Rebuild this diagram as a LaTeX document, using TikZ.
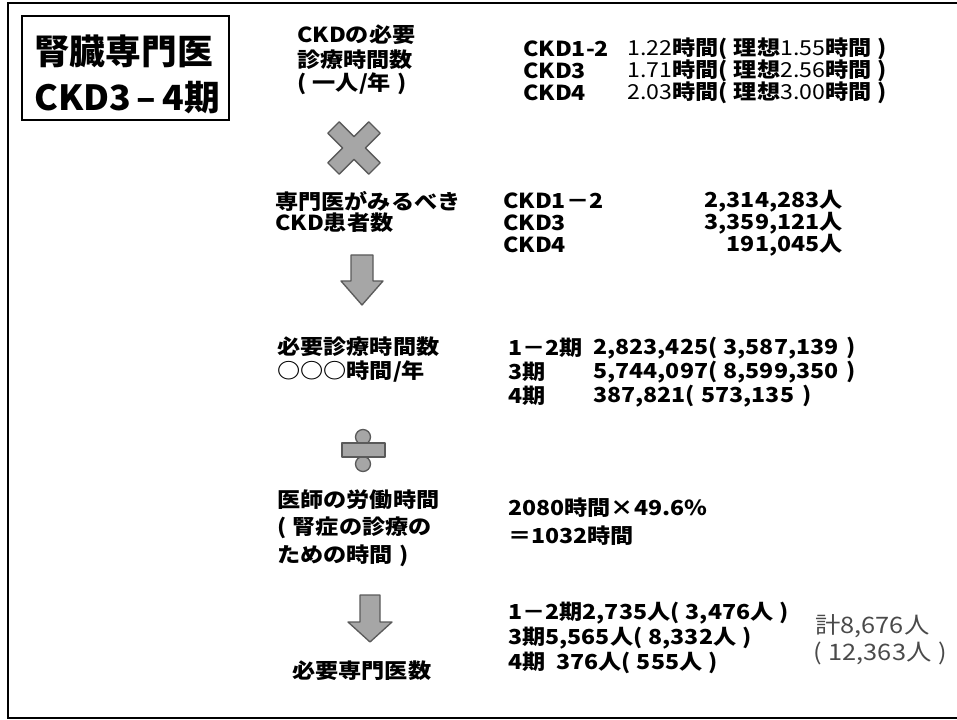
\documentclass[tikz,border=0pt]{standalone}
\usepackage{fontspec}
\setmainfont{Noto Sans CJK JP}[FakeStretch=1.12]
\newfontfamily\ttlfont{Noto Sans CJK JP}[FakeStretch=1.03]
\definecolor{symgray}{HTML}{A6A6A6}
\definecolor{symedge}{HTML}{5A5A5A}
\definecolor{totgray}{HTML}{4A4A4A}
\newcommand\lite[1]{{\mdseries #1}}
\newcommand\gp{\hspace{0.3em}}
\newcommand\gq{\hspace{0.4em}}
\tikzset{
  lbl/.style={inner sep=0pt, anchor=west, font=\bfseries\fontsize{15.5}{15.5}\selectfont},
  ttl/.style={inner sep=0pt, anchor=west, font=\ttlfont\bfseries\fontsize{26}{26}\selectfont},
  tot/.style={inner sep=0pt, anchor=west, text=totgray, font=\fontsize{17}{17}\selectfont},
  symfill/.style={fill=symgray, draw=symedge, line width=1pt, line join=round},
}
\begin{document}
\begin{tikzpicture}[x=0.75pt,y=-0.75pt]
\useasboundingbox (0,0) rectangle (957,720);
% outer frame
\draw[line width=2.2pt] (8,3) rectangle (990,718);
% title
\node (titlebox) [draw, line width=0.8pt, minimum width=155.25pt, minimum height=78pt, inner sep=0pt] at (125.5,68) {};
\node[ttl] (title1) at (34,51) {腎臓専門医};
\node[ttl] (title2) at (34,98) {CKD3\,–\,4期};
% section 1
\node[lbl] (a1) at (297,35) {CKDの必要};
\node[lbl] (a2) at (297,60) {診療時間数};
\node[lbl] (a3) at (297,84) {(\gp 一人/年\gp )};
\node[lbl] (r1a) at (523,49) {CKD1-2};
\node[lbl] (r1b) at (627,49) {\lite{1.22}時間(\gp 理想\lite{1.55}時間\gp )};
\node[lbl] (r2a) at (523,71) {CKD3};
\node[lbl] (r2b) at (627,71) {\lite{1.71}時間(\gp 理想\lite{2.56}時間\gp )};
\node[lbl] (r3a) at (523,93) {CKD4};
\node[lbl] (r3b) at (627,93) {\lite{2.03}時間(\gp 理想\lite{3.00}時間\gp )};
% cross
\begin{scope}[shift={(354,148)}, rotate=45]
\path[symfill] (8,29)--(8,8)--(29,8)--(29,-8)--(8,-8)--(8,-29)--(-8,-29)--(-8,-8)--(-29,-8)--(-29,8)--(-8,8)--(-8,29)--cycle;
\end{scope}
% section 2
\node[lbl] (b1) at (275,201) {専門医がみるべき};
\node[lbl] (b2) at (275,223) {CKD患者数};
\node[lbl] (s1a) at (503,201) {CKD1－2};
\node[lbl] (s2a) at (503,223) {CKD3};
\node[lbl] (s3a) at (503,245) {CKD4};
\node[lbl, anchor=east] (s1b) at (843,201) {2,314,283人};
\node[lbl, anchor=east] (s2b) at (843,223) {3,359,121人};
\node[lbl, anchor=east] (s3b) at (843,245) {191,045人};
% arrow 1
\path[symfill] (351,255)--(373,255)--(373,281)--(383,281)--(362,305)--(341,281)--(351,281)--cycle;
% section 3
\node[lbl] (c1) at (277,347) {必要診療時間数};
\node[lbl] (c2) at (277,372) {○○○時間/年};
\node[lbl] (t1a) at (508,348) {1－2期};
\node[lbl] (t2a) at (508,372) {3期};
\node[lbl] (t3a) at (508,396) {4期};
\node[lbl] (t1b) at (593,348) {2,823,425(\gp 3,587,139\gq )};
\node[lbl] (t2b) at (593,372) {5,744,097(\gp 8,599,350\gq )};
\node[lbl] (t3b) at (593,396) {387,821(\gp 573,135\gq )};
% divide sign
\path[symfill] (363,437) circle (7.5);
\path[symfill] (363,464) circle (7.5);
\path[symfill] (342,443) rectangle (385,457);
% section 4
\node[lbl] (d1) at (277,500) {医師の労働時間};
\node[lbl] (d2) at (277,528) {(\gp 腎症の診療の};
\node[lbl] (d3) at (277,556) {ための時間\gp )};
\node[lbl] (u1) at (508,508) {2080時間×49.6\%};
\node[lbl] (u2) at (508,536) {＝1032時間};
% arrow 2
\path[symfill] (360,595)--(380,595)--(380,622)--(392,622)--(370,642)--(348,622)--(360,622)--cycle;
% section 5
\node[lbl] (v1) at (508,613) {1－2期2,735人(\gp 3,476人\gp )};
\node[lbl] (v2) at (508,638) {3期5,565人(\gp 8,332人\gp )};
\node[lbl] (v3) at (508,663) {4期\ \ 376人(\gp 555人\gp )};
\node[tot] (w1) at (815,626) {計8,676人};
\node[tot] (w2) at (813,653) {(\gp 12,363人\gp )};
\node[lbl] (e1) at (292,671) {必要専門医数};
\end{tikzpicture}
\end{document}
